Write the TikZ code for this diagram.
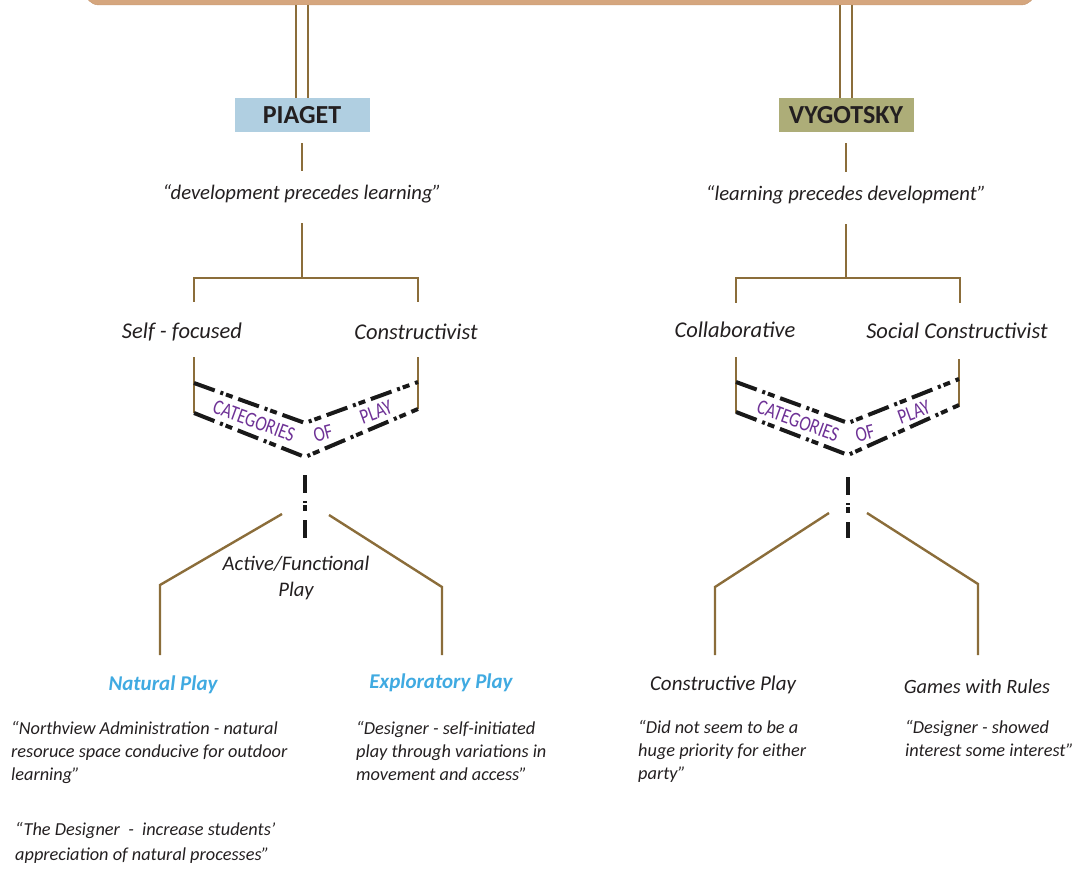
\documentclass[tikz,border=0pt]{standalone}
\usepackage{fontspec}
\setmainfont{Carlito}
\usepackage{graphicx}
\usepackage{tikz}

\definecolor{stembrown}{RGB}{139,109,58}
\definecolor{bartan}{RGB}{213,166,126}
\definecolor{baredge}{RGB}{196,148,108}
\definecolor{piagetblue}{RGB}{176,207,225}
\definecolor{vygolive}{RGB}{173,173,120}
\definecolor{ink}{RGB}{35,31,32}
\definecolor{playblue}{RGB}{64,170,225}
\definecolor{catpurple}{RGB}{110,50,150}

\newcommand{\tallcaps}[1]{\scalebox{1}[1.25]{#1}}

\begin{document}
\begin{tikzpicture}[x=1pt,y=-1pt,
  stem/.style={draw=stembrown, line width=2.4pt},
  dd/.style={draw=black!90, line width=4pt, dash pattern=on 22pt off 6pt on 3pt off 3pt on 7pt off 6pt},
  ddv/.style={draw=black!90, line width=3.5pt, dash pattern=on 18pt off 8pt on 2pt off 2pt on 6pt off 9pt},
  lbl/.style={font=\fontsize{22.5}{26}\selectfont\itshape, text=ink, inner sep=0pt},
  said/.style={font=\fontsize{20.7}{26}\selectfont\itshape, text=ink, inner sep=0pt},
  saying/.style={font=\fontsize{18.3}{23}\selectfont\itshape, text=ink, inner sep=0pt, align=left, anchor=north west},
  theorist/.style={font=\fontsize{26}{28}\selectfont\bfseries, text=ink, minimum width=135pt, minimum height=34pt, inner sep=0pt},
  catlabel/.style={font=\fontsize{17}{18}\selectfont, text=catpurple, inner sep=0pt},
  kind/.style={font=\fontsize{21}{24}\selectfont\bfseries\itshape, text=playblue, inner sep=0pt},
  playname/.style={font=\fontsize{21}{24}\selectfont\itshape, text=ink, inner sep=0pt}]

  \useasboundingbox (0,0) rectangle (1077,869);

  % top bar and the two theorists

  \node[fill=bartan, draw=baredge, rounded corners=14pt, minimum width=950pt, minimum height=50pt, inner sep=0pt] (top) at (560,-20) {};
  \node[theorist, fill=piagetblue] (piaget) at (302,115) {PIAGET};
  \node[theorist, fill=vygolive] (vygotsky) at (846,115) {VYGOTSKY};
  \draw[stem, line width=2pt, double=white, double distance=10pt] (piaget.north |- top.south) -- (piaget.north);
  \draw[stem, line width=2pt, double=white, double distance=10pt] (vygotsky.north |- top.south) -- (vygotsky.north);

  % piaget side

  \node[said] (devq) at (302,194) {“development precedes learning”};
  \draw[stem, shorten <=11pt, shorten >=14pt] (piaget) -- (devq);
  \coordinate (lsplit) at (302,278);
  \coordinate (la) at (194,302);
  \coordinate (lb) at (418,302);
  \draw[stem, shorten <=20pt] (devq) -- (lsplit);
  \draw[stem] (la) |- (lsplit) -| (lb);
  \node[lbl] (self) at (182,332) {Self - focused};
  \node[lbl] (constr) at (416,332) {Constructivist};

  \draw[stem] (194,357) -- (194,413);
  \draw[stem] (418,357) -- (418,409);
  \draw[dd] (194,383) -- (305,423) -- (418,382);
  \draw[dd] (194,413) -- (305,457) -- (418,409);
  \node[catlabel, rotate=-20] (lcat) at (254,421) {\tallcaps{CATEGORIES}};
  \node[catlabel, rotate=15] (lof) at (323,433) {\tallcaps{OF}};
  \node[catlabel, rotate=20] (lplay) at (376,412) {\tallcaps{PLAY}};

  \draw[ddv] (305,475) -- (305,538);
  \coordinate (ln) at (160,585);
  \coordinate (le) at (442,587);
  \draw[stem] (282,514) -- (ln) -- (160,655);
  \draw[stem] (329,515) -- (le) -- (442,655);
  \node[said, align=center] (active) at (296,578) {Active/Functional\\Play};

  \node[kind] (natural) at (163,685) {Natural Play};
  \node[kind] (explore) at (441,683) {Exploratory Play};
  \node[saying] (nq1) at (11,721) {“Northview Administration - natural\\resoruce space conducive for outdoor\\learning”};
  \node[saying, font=\fontsize{18.3}{25}\selectfont\itshape] (nq2) at (15,822) {“The Designer \ - \ increase students’\\appreciation of natural processes”};
  \node[saying] (eq) at (356,721) {“Designer - self-initiated\\play through variations in\\movement and access”};

  % vygotsky side

  \node[said] (learnq) at (846,195) {“learning precedes development”};
  \draw[stem, shorten <=11pt, shorten >=14pt] (vygotsky) -- (learnq);
  \coordinate (rsplit) at (846,278);
  \coordinate (ra) at (736,303);
  \coordinate (rb) at (960,303);
  \draw[stem, shorten <=20pt] (learnq) -- (rsplit);
  \draw[stem] (ra) |- (rsplit) -| (rb);
  \node[lbl] (collab) at (735,330) {Collaborative};
  \node[lbl] (social) at (957,331) {Social Constructivist};

  \draw[stem] (736,357) -- (736,413);
  \draw[stem] (959,359) -- (959,406);
  \draw[dd] (736,382) -- (848,423) -- (959,379);
  \draw[dd] (736,412) -- (848,455) -- (959,405);
  \node[catlabel, rotate=-20] (rcat) at (798,421) {\tallcaps{CATEGORIES}};
  \node[catlabel, rotate=15] (rof) at (865,433) {\tallcaps{OF}};
  \node[catlabel, rotate=20] (rplay) at (914,412) {\tallcaps{PLAY}};

  \draw[ddv] (848,477) -- (848,538);
  \coordinate (rc) at (715,587);
  \coordinate (rg) at (978,584);
  \draw[stem] (829,513) -- (rc) -- (715,655);
  \draw[stem] (867,513) -- (rg) -- (978,655);

  \node[playname] (constrplay) at (723,685) {Constructive Play};
  \node[playname, font=\fontsize{20.3}{24}\selectfont\itshape] (games) at (977,687) {Games with Rules};
  \node[saying] (cq) at (638,720) {“Did not seem to be a\\huge priority for either\\party”};
  \node[saying] (gq) at (905,720) {“Designer - showed\\interest some interest”};
\end{tikzpicture}
\end{document}
